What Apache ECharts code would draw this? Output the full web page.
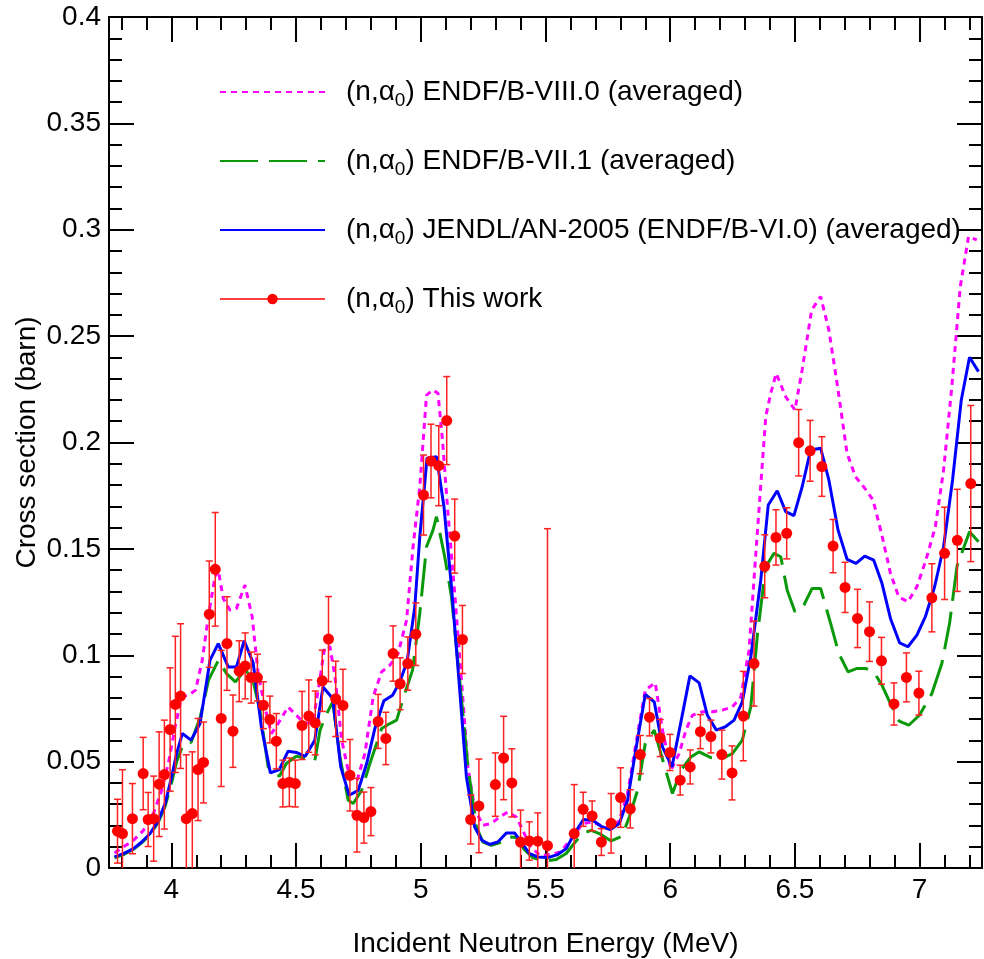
<!DOCTYPE html>
<html><head><meta charset="utf-8">
<script src="https://cdn.jsdelivr.net/npm/echarts@6/dist/echarts.min.js"></script>
<style>html,body{margin:0;padding:0;background:#fff}#c{width:984px;height:959px}</style>
</head><body><div id="c"></div>
<script>
// ---- Experimental data: (n,alpha0) This work ----
const expE = [3.784,3.804,3.844,3.887,3.907,3.929,3.951,3.972,3.995,4.016,4.037,4.060,4.084,4.107,4.129,4.152,4.176,4.200,4.223,4.247,4.272,4.296,4.320,4.345,4.369,4.395,4.421,4.447,4.473,4.497,4.524,4.551,4.577,4.605,4.630,4.659,4.688,4.716,4.744,4.772,4.800,4.829,4.860,4.889,4.917,4.948,4.980,5.011,5.041,5.072,5.104,5.136,5.167,5.200,5.233,5.299,5.332,5.365,5.400,5.435,5.469,5.508,5.615,5.651,5.687,5.724,5.763,5.801,5.840,5.880,5.917,5.960,5.999,6.040,6.080,6.121,6.163,6.207,6.248,6.293,6.336,6.379,6.424,6.467,6.515,6.561,6.608,6.653,6.701,6.751,6.799,6.847,6.897,6.947,6.997,7.049,7.100,7.151,7.205];
const expV = [0.0173,0.0162,0.0232,0.0444,0.0228,0.0232,0.0394,0.0439,0.0651,0.0769,0.0808,0.0232,0.0256,0.0463,0.0496,0.1193,0.1404,0.0703,0.1055,0.0643,0.0925,0.0950,0.0895,0.0895,0.0765,0.0698,0.0596,0.0397,0.0403,0.0397,0.0670,0.0714,0.0682,0.0880,0.1076,0.0795,0.0764,0.0436,0.0248,0.0237,0.0265,0.0689,0.0609,0.1008,0.0866,0.0961,0.1099,0.1753,0.1913,0.1891,0.2103,0.1560,0.1074,0.0228,0.0292,0.0392,0.0517,0.0400,0.0122,0.0127,0.0126,0.0105,0.0162,0.0276,0.0245,0.0122,0.0210,0.0331,0.0278,0.0533,0.0709,0.0611,0.0543,0.0413,0.0475,0.0641,0.0618,0.0533,0.0447,0.0714,0.0961,0.1418,0.1554,0.1573,0.1999,0.1961,0.1887,0.1513,0.1319,0.1173,0.1111,0.0974,0.0771,0.0896,0.0822,0.1270,0.1479,0.1540,0.1807];
const expErr = [0.015,0.030,0.0165,0.017,0.0127,0.020,0.0246,0.0256,0.029,0.032,0.034,0.030,0.029,0.024,0.019,0.025,0.0267,0.032,0.022,0.017,0.0143,0.0155,0.012,0.011,0.011,0.011,0.013,0.011,0.0114,0.011,0.016,0.017,0.015,0.0144,0.020,0.0177,0.017,0.0168,0.0173,0.012,0.0113,0.0127,0.0123,0.013,0.0122,0.0125,0.0147,0.0188,0.0173,0.0188,0.0207,0.0174,0.016,0.0115,0.022,0.0149,0.0196,0.016,0.015,0.009,0.0133,0.149,0.023,0.008,0.007,0.0063,0.014,0.014,0.009,0.009,0.0088,0.0087,0.0085,0.007,0.008,0.008,0.0077,0.0115,0.0127,0.021,0.020,0.0148,0.013,0.012,0.0156,0.0143,0.014,0.0125,0.0118,0.0137,0.014,0.011,0.0099,0.0115,0.0103,0.016,0.0217,0.024,0.0367];

// ---- ENDF/B-VIII.0 (averaged) ----
const endf8E = [3.772,3.808,3.848,3.888,3.928,3.961,3.988,4.015,4.041,4.075,4.097,4.124,4.148,4.175,4.188,4.208,4.235,4.261,4.295,4.324,4.348,4.375,4.401,4.428,4.468,4.501,4.535,4.568,4.595,4.615,4.636,4.656,4.683,4.716,4.745,4.776,4.809,4.843,4.876,4.909,4.943,4.969,4.996,5.023,5.049,5.069,5.087,5.109,5.136,5.163,5.189,5.216,5.249,5.283,5.316,5.349,5.383,5.409,5.436,5.476,5.503,5.560,5.609,5.649,5.689,5.729,5.763,5.796,5.829,5.865,5.900,5.940,5.969,6.003,6.036,6.063,6.089,6.129,6.169,6.209,6.249,6.283,6.316,6.349,6.383,6.403,6.425,6.463,6.500,6.529,6.567,6.603,6.636,6.673,6.709,6.743,6.780,6.813,6.847,6.883,6.916,6.953,6.989,7.025,7.063,7.096,7.129,7.163,7.196,7.229];
const endf8V = [0.0071,0.0099,0.013,0.0177,0.0256,0.0365,0.0491,0.0663,0.0804,0.0817,0.0836,0.0977,0.1181,0.1369,0.140,0.1267,0.1212,0.122,0.133,0.1181,0.0914,0.0757,0.0632,0.0679,0.0757,0.0718,0.0679,0.0687,0.0883,0.104,0.104,0.0898,0.0601,0.042,0.0413,0.0538,0.0804,0.0922,0.0953,0.1008,0.1165,0.151,0.1792,0.2223,0.2247,0.2231,0.2012,0.1667,0.1291,0.0883,0.0475,0.0279,0.0201,0.0209,0.024,0.0263,0.024,0.0177,0.0107,0.006,0.006,0.0075,0.0146,0.0209,0.0216,0.0196,0.0185,0.0224,0.035,0.0601,0.0836,0.087,0.0648,0.046,0.0538,0.0648,0.0718,0.0734,0.0734,0.0742,0.0757,0.0804,0.1024,0.1573,0.2121,0.2231,0.2325,0.2215,0.2153,0.2341,0.2623,0.2686,0.2529,0.2247,0.1949,0.1839,0.1785,0.173,0.1573,0.1385,0.1275,0.1251,0.1322,0.1447,0.1604,0.1871,0.2262,0.2733,0.2968,0.2952];

// ---- ENDF/B-VII.1 (averaged) ----
const endf7E = [3.772,3.808,3.848,3.881,3.915,3.948,3.975,4.001,4.021,4.044,4.063,4.079,4.116,4.149,4.189,4.221,4.257,4.295,4.324,4.355,4.388,4.433,4.461,4.501,4.541,4.575,4.596,4.623,4.647,4.676,4.709,4.729,4.763,4.796,4.823,4.843,4.876,4.903,4.936,4.967,4.996,5.023,5.049,5.063,5.096,5.123,5.156,5.189,5.223,5.249,5.283,5.316,5.349,5.383,5.412,5.449,5.483,5.503,5.543,5.583,5.609,5.647,5.683,5.716,5.763,5.807,5.836,5.869,5.900,5.936,5.976,6.009,6.043,6.083,6.116,6.163,6.209,6.249,6.289,6.323,6.350,6.383,6.416,6.443,6.469,6.500,6.536,6.569,6.603,6.643,6.676,6.713,6.749,6.783,6.816,6.849,6.883,6.918,6.956,6.999,7.049,7.089,7.120,7.150,7.200,7.236];
const endf7V = [0.0048,0.0063,0.0088,0.0118,0.0157,0.0215,0.029,0.040,0.050,0.057,0.0593,0.059,0.071,0.0883,0.0977,0.0914,0.0875,0.093,0.0898,0.0742,0.0475,0.0431,0.0491,0.0525,0.0515,0.0503,0.0648,0.0726,0.0781,0.0522,0.0318,0.0303,0.0365,0.0491,0.0585,0.0656,0.0679,0.0695,0.082,0.093,0.1197,0.151,0.1588,0.1651,0.1463,0.1275,0.0883,0.0475,0.0193,0.0122,0.0107,0.0118,0.0146,0.0143,0.0091,0.0049,0.0036,0.0033,0.004,0.0068,0.0107,0.0162,0.0177,0.0162,0.0127,0.0149,0.024,0.0365,0.0585,0.0648,0.0483,0.035,0.046,0.0522,0.0546,0.0519,0.0515,0.0538,0.0601,0.0757,0.110,0.1416,0.1479,0.1463,0.1306,0.1204,0.1236,0.1314,0.1314,0.115,0.1008,0.0922,0.0938,0.0938,0.0922,0.0859,0.0773,0.069,0.0671,0.0718,0.082,0.0961,0.115,0.142,0.158,0.1533];

// ---- JENDL/AN-2005 (ENDF/B-VI.0) (averaged) ----
const jendlE = [3.772,3.808,3.848,3.881,3.915,3.948,3.975,4.001,4.021,4.044,4.079,4.115,4.155,4.188,4.228,4.261,4.292,4.328,4.361,4.397,4.433,4.468,4.501,4.537,4.575,4.608,4.647,4.679,4.713,4.749,4.783,4.816,4.852,4.887,4.916,4.945,4.976,4.996,5.025,5.063,5.093,5.123,5.153,5.183,5.216,5.245,5.276,5.309,5.343,5.376,5.407,5.436,5.469,5.509,5.549,5.583,5.616,5.652,5.689,5.723,5.759,5.796,5.829,5.865,5.900,5.936,5.969,6.007,6.043,6.079,6.116,6.149,6.185,6.220,6.256,6.289,6.323,6.363,6.393,6.429,6.463,6.496,6.529,6.563,6.603,6.636,6.673,6.709,6.745,6.780,6.816,6.849,6.883,6.920,6.953,6.989,7.023,7.060,7.096,7.132,7.167,7.200,7.236];
const jendlV = [0.0052,0.0068,0.0091,0.0122,0.0162,0.0224,0.0303,0.0428,0.0538,0.0632,0.0601,0.0679,0.0977,0.1055,0.0945,0.0945,0.1068,0.0964,0.0663,0.0447,0.0463,0.0549,0.0543,0.0525,0.0601,0.0851,0.0797,0.0475,0.0342,0.0365,0.0491,0.0656,0.0786,0.0812,0.0875,0.0969,0.1228,0.1557,0.1926,0.1933,0.1698,0.1322,0.0883,0.0428,0.0193,0.013,0.0111,0.0122,0.0165,0.0165,0.0115,0.0068,0.0052,0.0049,0.0063,0.0091,0.0162,0.0228,0.0224,0.0196,0.018,0.0209,0.0318,0.0577,0.0816,0.0781,0.0569,0.0475,0.0687,0.0903,0.087,0.0718,0.0648,0.0663,0.0695,0.0781,0.0992,0.1353,0.1706,0.1773,0.1675,0.1656,0.1792,0.1965,0.1973,0.1824,0.1588,0.1451,0.1432,0.1466,0.1447,0.1338,0.1173,0.1058,0.104,0.1095,0.1181,0.1322,0.151,0.1824,0.22,0.2401,0.2333];

// ---- Labels ----
const seriesNames = ['ENDF/B-VIII.0 (averaged)','ENDF/B-VII.1 (averaged)','JENDL/AN-2005 (ENDF/B-VI.0) (averaged)','This work'];
const xTitle = 'Incident Neutron Energy (MeV)';
const yTitle = 'Cross section (barn)';

const FONT = '"Liberation Sans", Arial, Helvetica, sans-serif';
const pairs = (E, V) => E.map((e, i) => [e, V[i]]);

const axisCommon = {
  axisLine: {show: true, onZero: false, lineStyle: {color: '#000', width: 2}},
  axisTick: {show: true, inside: true, length: 25, lineStyle: {color: '#000', width: 2}},
  minorTick: {show: true, splitNumber: 5, length: 13, lineStyle: {color: '#000', width: 2}},
  splitLine: {show: false},
  minorSplitLine: {show: false}
};

const chart = echarts.init(document.getElementById('c'), null, {renderer: 'canvas'});
const option = {
  animation: false,
  backgroundColor: '#fff',
  grid: {left: 109, right: 2, top: 17, bottom: 91, containLabel: false, outerBoundsMode: 'none'},
  xAxis: [
    Object.assign({type: 'value', min: 3.75, max: 7.25, splitNumber: 7, position: 'bottom',
      axisLabel: {fontSize: 28, color: '#000', fontFamily: FONT, margin: 8, showMinLabel: false, showMaxLabel: false},
      name: xTitle, nameLocation: 'middle', nameGap: 62, nameMoveOverlap: false,
      nameTextStyle: {fontSize: 28, color: '#000', fontFamily: FONT}}, axisCommon),
    Object.assign({type: 'value', min: 3.75, max: 7.25, splitNumber: 7, position: 'top',
      axisLabel: {show: false}}, axisCommon)
  ],
  yAxis: [
    Object.assign({type: 'value', min: 0, max: 0.4, interval: 0.05, position: 'left',
      axisLabel: {fontSize: 28, color: '#000', fontFamily: FONT, margin: 8},
      name: yTitle, nameLocation: 'middle', nameGap: 68, nameMoveOverlap: false,
      nameTextStyle: {fontSize: 28, color: '#000', fontFamily: FONT}}, axisCommon),
    Object.assign({type: 'value', min: 0, max: 0.4, interval: 0.05, position: 'right',
      axisLabel: {show: false}}, axisCommon)
  ],
  legend: {
    orient: 'vertical', left: 219, top: 78, padding: 0, itemWidth: 105, itemHeight: 13, itemGap: 37,
    selectedMode: false,
    data: [
      {name: seriesNames[0], itemStyle: {opacity: 0}},
      {name: seriesNames[1], itemStyle: {opacity: 0}},
      {name: seriesNames[2], itemStyle: {opacity: 0}},
      {name: seriesNames[3], lineStyle: {opacity: 1, width: 1.5, color: '#ff0000', type: 'solid'}}
    ],
    formatter: n => '{t|(n,α}{s|0}{t|) ' + n + '}',
    textStyle: {
      padding: [0, 0, 0, 16],
      rich: {
        t: {fontSize: 28, fontFamily: FONT, color: '#000'},
        s: {fontSize: 19, fontFamily: FONT, color: '#000', padding: [17, 0, 0, 0]}
      }
    }
  },
  series: [
    {name: seriesNames[0], type: 'line', data: pairs(endf8E, endf8V), symbol: 'none', clip: true, z: 2,
      lineStyle: {color: '#ff00ff', width: 3, type: [6, 5]}, itemStyle: {color: '#ff00ff'}},
    {name: seriesNames[1], type: 'line', data: pairs(endf7E, endf7V), symbol: 'none', clip: true, z: 2,
      lineStyle: {color: '#0a990a', width: 3, type: [38, 11]}, itemStyle: {color: '#0a990a'}},
    {name: seriesNames[2], type: 'line', data: pairs(jendlE, jendlV), symbol: 'none', clip: true, z: 2,
      lineStyle: {color: '#0000ff', width: 3}, itemStyle: {color: '#0000ff'}},
    {name: 'errbars', type: 'custom', clip: true, z: 3,
      data: expE.map((e, i) => [e, expV[i], expErr[i]]),
      renderItem: (params, api) => {
        const x = api.value(0), y = api.value(1), e = api.value(2);
        const pt = api.coord([x, y + e]), pb = api.coord([x, y - e]);
        const c = 3.5, st = {stroke: '#ff2020', lineWidth: 1.5};
        return {type: 'group', children: [
          {type: 'line', shape: {x1: pt[0], y1: pt[1], x2: pb[0], y2: pb[1]}, style: st},
          {type: 'line', shape: {x1: pt[0] - c, y1: pt[1], x2: pt[0] + c, y2: pt[1]}, style: st},
          {type: 'line', shape: {x1: pb[0] - c, y1: pb[1], x2: pb[0] + c, y2: pb[1]}, style: st}
        ]};
      }},
    {name: seriesNames[3], type: 'line', data: pairs(expE, expV), symbol: 'circle', symbolSize: 11,
      showSymbol: true, clip: true, z: 4,
      lineStyle: {width: 0, opacity: 0, color: '#ff0000'}, itemStyle: {color: '#ff0000'}}
  ]
};
chart.setOption(option);
</script>
</body></html>
